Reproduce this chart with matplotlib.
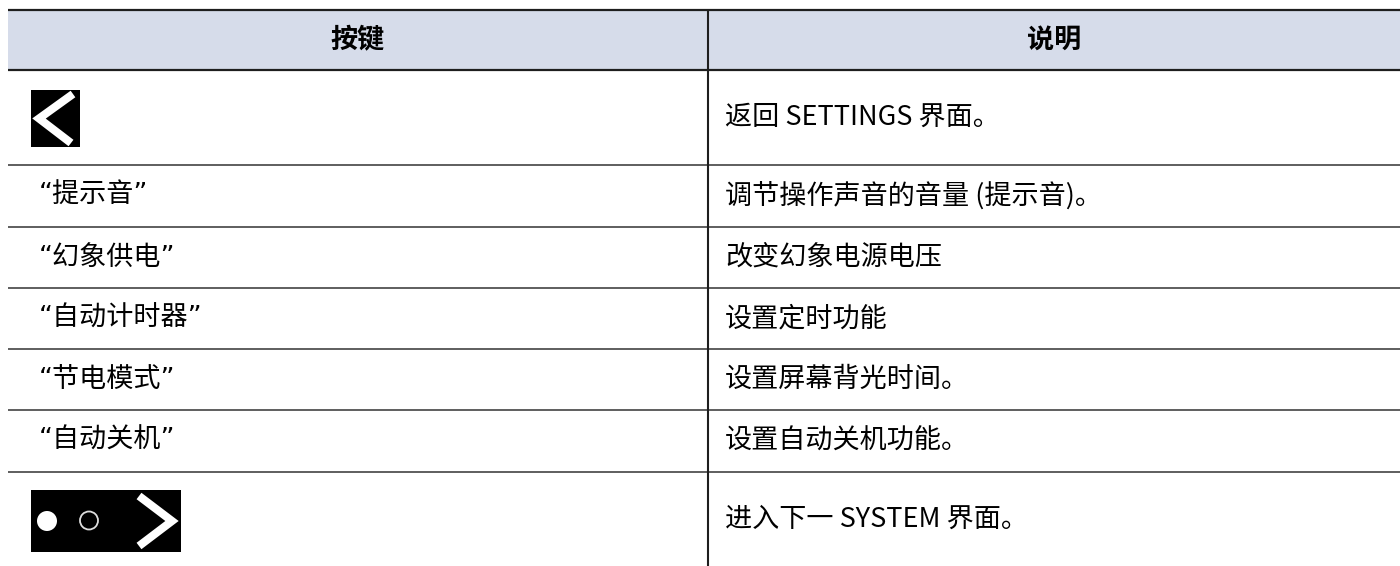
import matplotlib
matplotlib.use('Agg')
import matplotlib.pyplot as plt
from matplotlib.patches import Rectangle, Circle

plt.rcParams['font.family'] = ['Noto Sans CJK SC', 'DejaVu Sans']

# table content
headers = ['按键', '说明']
keys = ['<icon_back>', '“提示音”', '“幻象供电”', '“自动计时器”', '“节电模式”', '“自动关机”', '<icon_next>']
descs = ['返回 SETTINGS 界面。', '调节操作声音的音量 (提示音)。', '改变幻象电源电压', '设置定时功能',
         '设置屏幕背光时间。', '设置自动关机功能。', '进入下一 SYSTEM 界面。']

# layout (pixels)
W, H = 1400, 566
x_left, x_mid, x_right = 8, 708, 1400
y_head = (10, 70)
row_edges = [70, 165, 227, 288, 349, 410, 472, 566]
line_col = '#1e1e1e'
head_fill = '#d6dcea'
fs = 19.5
# proportional curly quotes from a Latin font, the CJK glyphs fall back
key_family = ['DejaVu Sans', 'Noto Sans CJK SC']

fig = plt.figure(figsize=(W / 100, H / 100), dpi=100)
ax = fig.add_axes([0, 0, 1, 1])
ax.set_xlim(0, W)
ax.set_ylim(H, 0)
ax.axis('off')

# header
ax.add_patch(Rectangle((x_left, y_head[0]), x_right - x_left, y_head[1] - y_head[0],
                       facecolor=head_fill, edgecolor='none', zorder=0))
ax.text((x_left + x_mid) / 2, sum(y_head) / 2, headers[0], ha='center', va='center',
        fontsize=fs, fontweight='bold')
ax.text((x_mid + x_right) / 2, sum(y_head) / 2, headers[1], ha='center', va='center',
        fontsize=fs, fontweight='bold')
for y in y_head:
    ax.plot([x_left, x_right], [y, y], color=line_col, lw=1.6, solid_capstyle='butt')

# row separators
for y in row_edges[1:-1]:
    ax.plot([x_left, x_right], [y, y], color='#333333', lw=1.1, solid_capstyle='butt')
ax.plot([x_mid, x_mid], [y_head[0], H], color=line_col, lw=1.5, solid_capstyle='butt')


def back_icon():
    ax.add_patch(Rectangle((31, 90), 49, 57, facecolor='black', edgecolor='none'))
    ax.plot([73, 39, 71], [94, 118.5, 143], color='white', lw=5.8,
            solid_joinstyle='miter', solid_capstyle='butt')


def next_icon():
    ax.add_patch(Rectangle((31, 490), 150, 62, facecolor='black', edgecolor='none'))
    ax.add_patch(Circle((47, 521), 10, facecolor='white', edgecolor='none'))
    ax.add_patch(Circle((89, 520.5), 9, facecolor='none', edgecolor='#dddddd', lw=1.3))
    ax.plot([139, 172, 139], [496, 521, 546], color='white', lw=5.8,
            solid_joinstyle='miter', solid_capstyle='butt')


for i, (k, d) in enumerate(zip(keys, descs)):
    yc = (row_edges[i] + row_edges[i + 1]) / 2
    if k == '<icon_back>':
        back_icon()
    elif k == '<icon_next>':
        next_icon()
    else:
        ax.text(39, yc, k, ha='left', va='center', fontsize=fs, family=key_family)
    ax.text(725, yc, d, ha='left', va='center', fontsize=fs)

fig.savefig('out.png', dpi=100)
